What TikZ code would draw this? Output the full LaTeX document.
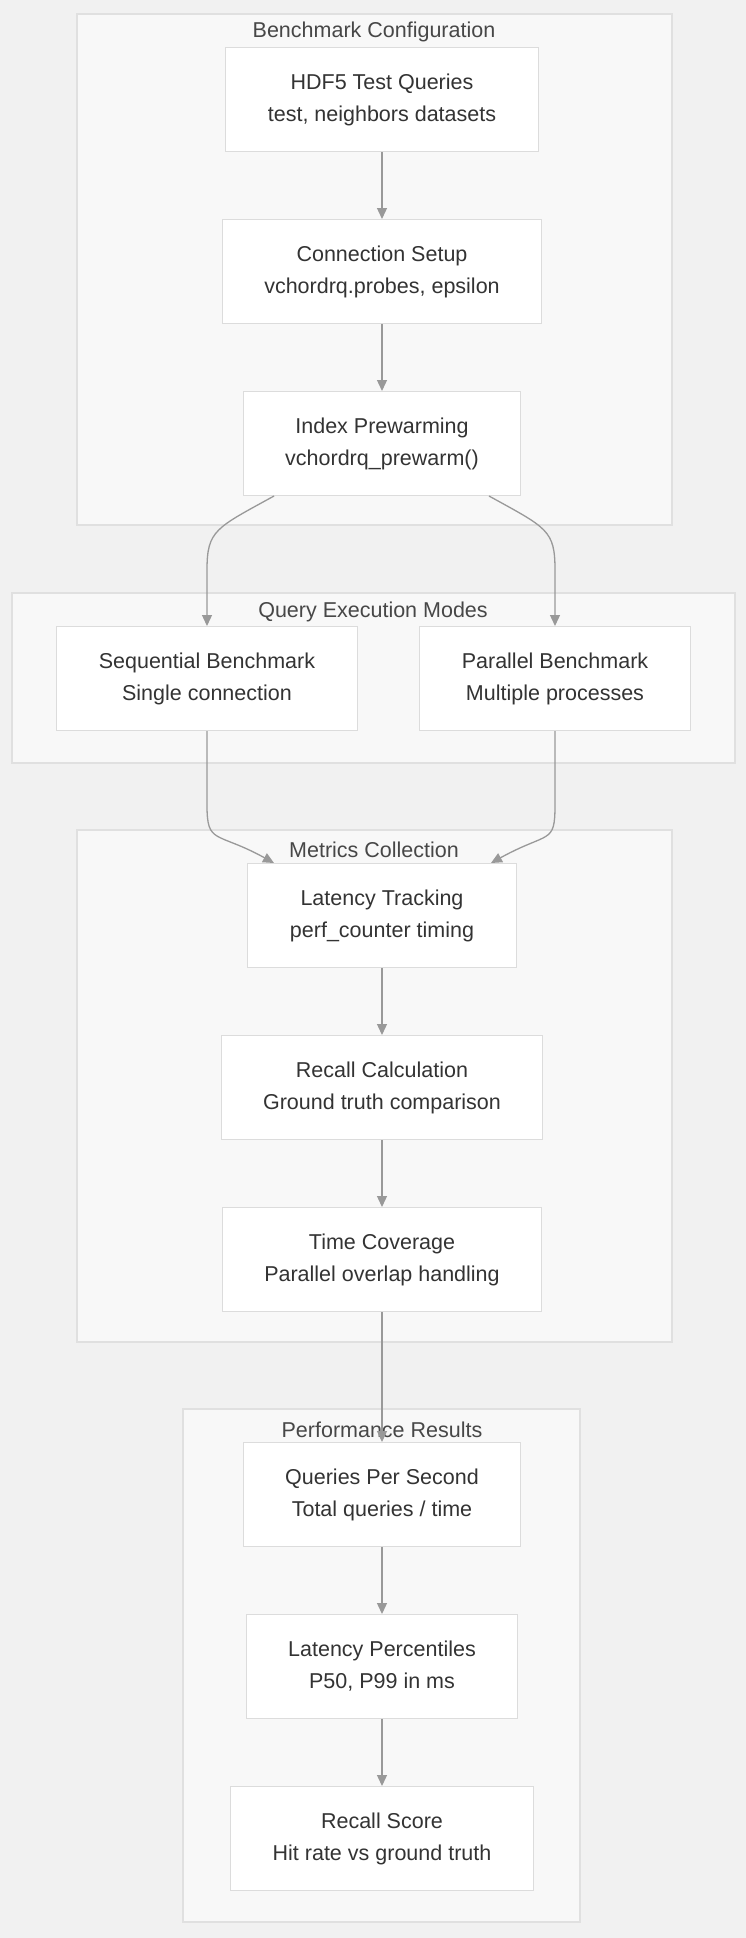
\documentclass[tikz,border=0pt]{standalone}
\usepackage{fontspec}
\setmainfont{Liberation Sans}
\usepackage{tikz}
\usetikzlibrary{positioning,arrows.meta}
\definecolor{bgcol}{HTML}{F1F1F1}
\definecolor{clfill}{HTML}{F8F8F8}
\definecolor{clline}{HTML}{E0E0E0}
\definecolor{boxline}{HTML}{DCDCDC}
\definecolor{edgecol}{HTML}{999999}
\definecolor{txtcol}{HTML}{333333}
\tikzset{stage/.style={rectangle,draw=boxline,fill=white,line width=1pt,align=center,
	   inner xsep=42pt,minimum height=104pt,text=txtcol,
	   font=\fontsize{21.5}{32}\selectfont,
	   execute at begin node={\rule{0pt}{22pt}}},
	 cluster/.style={draw=clline,fill=clfill,line width=1.2pt},
	 cltitle/.style={text=txtcol!90,font=\fontsize{21.5}{24}\selectfont},
	 flow/.style={draw=edgecol,line width=1.3pt,-{Triangle[length=11pt,width=10pt]}},
	 node distance = 67pt
	 }
\begin{document}
\begin{tikzpicture}[x=1pt,y=-1pt]
	% background and groups
	\fill[bgcol] (0,0) rectangle (746,1938);
	\path[cluster] (77,14) rectangle (672,525);
	\path[cluster] (12,593) rectangle (735,763);
	\path[cluster] (77,830) rectangle (672,1342);
	\path[cluster] (183,1409) rectangle (580,1922);
	\node[cltitle] (t1) at (374,32) {Benchmark Configuration};
	\node[cltitle] (t2) at (373,612) {Query Execution Modes};
	\node[cltitle] (t3) at (374,850) {Metrics Collection};
	\node[cltitle] (t4) at (382,1430) {Performance Results};
	% configuration
	\node[stage,anchor=north] (hdf) at (382,47) {HDF5 Test Queries\\test, neighbors datasets};
	\node[stage] (conn) [below=of hdf] {Connection Setup\\vchordrq.probes, epsilon};
	\node[stage] (warm) [below=of conn] {Index Prewarming\\vchordrq\_prewarm()};
	% execution modes
	\node[stage,anchor=north] (seq) at (207,626) {Sequential Benchmark\\Single connection};
	\node[stage,anchor=north] (par) at (555,626) {Parallel Benchmark\\Multiple processes};
	% metrics
	\node[stage,anchor=north] (lat) at (382,863) {Latency Tracking\\perf\_counter timing};
	\node[stage] (rec) [below=of lat] {Recall Calculation\\Ground truth comparison};
	\node[stage] (cov) [below=of rec] {Time Coverage\\Parallel overlap handling};
	% results
	\node[stage,anchor=north] (qps) at (382,1442) {Queries Per Second\\Total queries / time};
	\node[stage] (pct) [below=of qps] {Latency Percentiles\\P50, P99 in ms};
	\node[stage] (score) [below=of pct] {Recall Score\\Hit rate vs ground truth};
	% edges
	\draw[flow] ([xshift=-108pt]warm.south) .. controls +(-58,32) and +(0,-40) .. (207,570) -- (seq.north);
	\draw[flow] ([xshift=107pt]warm.south) .. controls +(58,32) and +(0,-40) .. (555,570) -- (par.north);
	\draw[flow] (seq.south) -- (207,805) .. controls +(0,40) and +(-58,-32) .. ([xshift=-108pt]lat.north);
	\draw[flow] (par.south) -- (555,805) .. controls +(0,40) and +(58,-32) .. ([xshift=109pt]lat.north);
	\draw[flow] (hdf) -- (conn);
	\draw[flow] (conn) -- (warm);
	\draw[flow] (lat) -- (rec);
	\draw[flow] (rec) -- (cov);
	\draw[flow] (cov) -- (qps);
	\draw[flow] (qps) -- (pct);
	\draw[flow] (pct) -- (score);
\end{tikzpicture}
\end{document}
